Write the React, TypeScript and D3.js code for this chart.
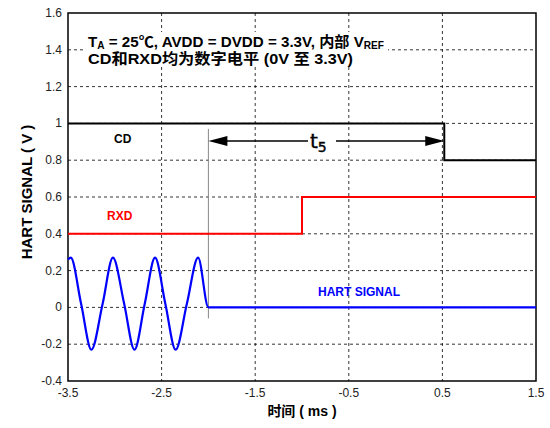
import React from "react";
import * as d3 from "d3";

const xTicks = [-3.5, -2.5, -1.5, -0.5, 0.5, 1.5];
const yTicks = [-0.4, -0.2, 0, 0.2, 0.4, 0.6, 0.8, 1, 1.2, 1.4, 1.6];

const cdX = [-3.5, 0.52, 0.52, 1.5];
const cdY = [1, 1, 0.8, 0.8];
const rxdX = [-3.5, -1.0, -1.0, 1.5];
const rxdY = [0.4, 0.4, 0.6, 0.6];
const hartX = [-3.5, -3.47, -3.36, -3.25, -3.13, -3.02, -2.9, -2.79, -2.68, -2.57, -2.46, -2.35, -2.23, -2.11, -2.0, -1.9, 1.5];
const hartY = [0.26, 0.27, 0.02, -0.23, 0.02, 0.27, 0.02, -0.23, 0.02, 0.27, 0.02, -0.23, 0.02, 0.27, 0, 0, 0];

const markerX = -2.0;
const t5Start = -2.0;
const t5End = 0.52;
const t5Y = 0.905;

export default function App() {
  const W = 550, H = 428;
  const L = 68, R = 536, T = 13, B = 381;
  const x = d3.scaleLinear().domain([-3.5, 1.5]).range([L, R]);
  const y = d3.scaleLinear().domain([-0.4, 1.6]).range([B, T]);

  const stepLine = (xs: number[], ys: number[]) =>
    d3.line<number>().x((_, i) => x(xs[i])).y((_, i) => y(ys[i]))(xs.map((_, i) => i)) || "";
  const hartPath =
    d3.line<number>().x((_, i) => x(hartX[i])).y((_, i) => y(hartY[i])).curve(d3.curveMonotoneX)(hartX.map((_, i) => i)) || "";

  const fmt = (v: number) => (Math.round(v * 10) / 10).toString();
  const tickFont = "'Liberation Sans', Arial, sans-serif";
  const boldFont = "'Liberation Sans', Arial, 'Noto Sans CJK SC', sans-serif";

  const ay = y(t5Y);
  const ax1 = x(t5Start);
  const ax2 = x(t5End);

  return (
    <svg width={W} height={H} style={{ position: "absolute", left: 0, top: 0, background: "#fff" }}>
      <rect x={0} y={0} width={W} height={H} fill="#fff" />
      {/* grid */}
      {xTicks.slice(1, -1).map((v) => (
        <line key={"gx" + v} x1={x(v)} x2={x(v)} y1={T} y2={B} stroke="#000" strokeWidth={0.8} strokeDasharray="3,3" />
      ))}
      {yTicks.slice(1, -1).map((v) => (
        <line key={"gy" + v} x1={L} x2={R} y1={y(v)} y2={y(v)} stroke="#000" strokeWidth={0.8} strokeDasharray="3,3" />
      ))}
      {/* annotation box */}
      <rect x={85} y={32} width={303} height={35} fill="#fff" />
      <text x={88} y={47} fontFamily={boldFont} fontWeight="bold" fontSize={15} fill="#000"
        textLength={296} lengthAdjust="spacingAndGlyphs">
        <tspan>T</tspan>
        <tspan fontSize={10} dy={2}>A</tspan>
        <tspan dy={-2}> = 25℃, AVDD = DVDD = 3.3V, 内部 V</tspan>
        <tspan fontSize={10} dy={2}>REF</tspan>
      </text>
      <text x={88} y={64} fontFamily={boldFont} fontWeight="bold" fontSize={15} fill="#000"
        textLength={265} lengthAdjust="spacingAndGlyphs">
        CD和RXD均为数字电平 (0V 至 3.3V)
      </text>
      {/* frame */}
      <rect x={L} y={T} width={R - L} height={B - T} fill="none" stroke="#000" strokeWidth={1.5} />
      {/* marker */}
      <line x1={x(markerX)} x2={x(markerX)} y1={ay - 12} y2={y(-0.06)} stroke="#888" strokeWidth={1} />
      {/* series */}
      <path d={stepLine(cdX, cdY)} fill="none" stroke="#000" strokeWidth={2} />
      <path d={stepLine(rxdX, rxdY)} fill="none" stroke="#ff0000" strokeWidth={2} />
      <path d={hartPath} fill="none" stroke="#0000ff" strokeWidth={2.2} />
      {/* arrow */}
      <line x1={ax1 + 15} x2={308} y1={ay} y2={ay} stroke="#000" strokeWidth={1.5} />
      <line x1={336} x2={ax2 - 15} y1={ay} y2={ay} stroke="#000" strokeWidth={1.5} />
      <path d={`M${ax1},${ay} L${ax1 + 19},${ay - 5} L${ax1 + 19},${ay + 5} Z`} fill="#000" />
      <path d={`M${ax2},${ay} L${ax2 - 19},${ay - 5} L${ax2 - 19},${ay + 5} Z`} fill="#000" />
      <text x={310} y={ay + 7} fontFamily="'DejaVu Sans', sans-serif" fontSize={20} fill="#000" stroke="#000" strokeWidth={0.4}>
        <tspan>t</tspan>
        <tspan fontSize={14} dy={4}>5</tspan>
      </text>
      {/* labels */}
      <text x={114} y={143} fontFamily={boldFont} fontWeight="bold" fontSize={12} fill="#000">CD</text>
      <text x={107} y={220} fontFamily={boldFont} fontWeight="bold" fontSize={12} fill="#ff0000">RXD</text>
      <text x={318} y={296} fontFamily={boldFont} fontWeight="bold" fontSize={12} fill="#0000ff">HART SIGNAL</text>
      {/* ticks */}
      {yTicks.map((v) => (
        <text key={"ty" + v} x={62} y={y(v) + 4} textAnchor="end" fontFamily={tickFont} fontSize={12} fill="#222">
          {fmt(v)}
        </text>
      ))}
      {xTicks.map((v) => (
        <text key={"tx" + v} x={x(v)} y={397} textAnchor="middle" fontFamily={tickFont} fontSize={12} fill="#222">
          {fmt(v)}
        </text>
      ))}
      <text x={(L + R) / 2} y={416} textAnchor="middle" fontFamily={boldFont} fontWeight="bold" fontSize={14} fill="#000">
        时间 ( ms )
      </text>
      <text
        transform={`translate(32,192) rotate(-90)`}
        textAnchor="middle"
        fontFamily={boldFont}
        fontWeight="bold"
        fontSize={15}
        fill="#000"
      >
        HART SIGNAL ( V )
      </text>
    </svg>
  );
}
